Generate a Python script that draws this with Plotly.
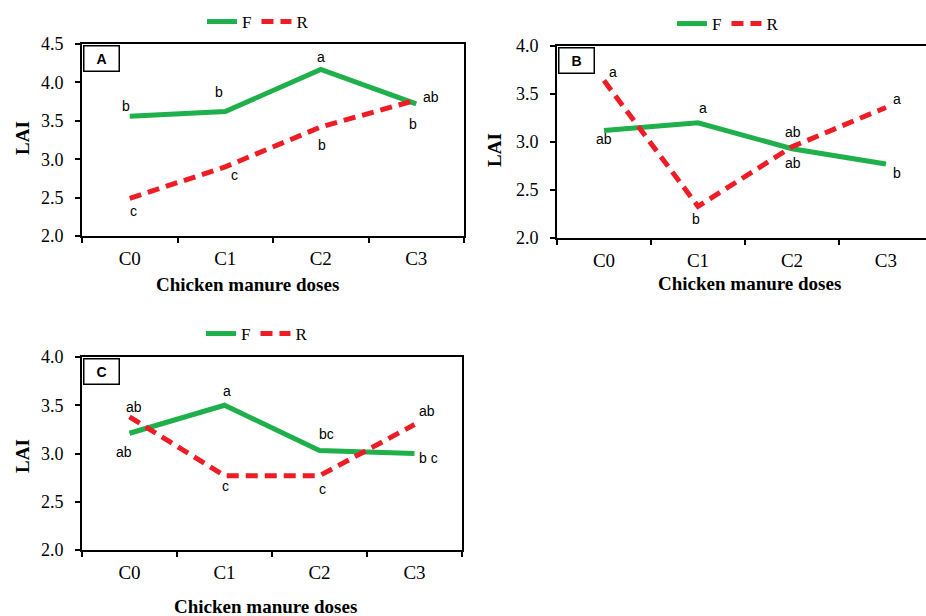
import plotly.graph_objects as go

# Chicken manure dose levels
doses = ["C0", "C1", "C2", "C3"]

# Leaf area index (LAI) for the F and R series in each panel
lai_f_a = [3.56, 3.62, 4.17, 3.72]
lai_r_a = [2.49, 2.90, 3.42, 3.77]
lai_f_b = [3.12, 3.20, 2.93, 2.77]
lai_r_b = [3.64, 2.33, 2.95, 3.36]
lai_f_c = [3.21, 3.50, 3.03, 3.00]
lai_r_c = [3.38, 2.77, 2.77, 3.30]

# Mean-separation letters
letters_f_a = ["b", "b", "a", "b"]
letters_r_a = ["c", "c", "b", "ab"]
letters_f_b = ["ab", "a", "ab", "b"]
letters_r_b = ["a", "b", "ab", "a"]
letters_f_c = ["ab", "a", "bc", "b c"]
letters_r_c = ["ab", "c", "c", "ab"]

# Y axis limits per panel
ymax_a, ymax_b, ymax_c = 4.5, 4.0, 4.0

W, H = 926, 616
GREEN = "#1FB04B"
RED = "#EE1D25"
SERIF = "Liberation Serif, Times New Roman, serif"
SANS = "Liberation Sans, Arial, sans-serif"


def px_x(p):
    return p / W


def px_y(p):
    return 1 - p / H


panels = [
    dict(name="A", f=lai_f_a, r=lai_r_a, lf=letters_f_a, lr=letters_r_a, ymax=ymax_a,
         dom_x=(82, 464), dom_y=(44, 236), xrange=(-0.5, 3.5),
         legend_xy=(258, 4), title_xy=(247, 284), lai_xy=(22, 138),
         shift_f=[(-4, 10), (-6, 20), (0, 12), (-3, -20)],
         shift_r=[(4, -13), (9, -8), (1, -18), (15, 3)]),
    dict(name="B", f=lai_f_b, r=lai_r_b, lf=letters_f_b, lr=letters_r_b, ymax=ymax_b,
         dom_x=(557, 926), dom_y=(46, 238), xrange=(-0.5, 3.426),
         legend_xy=(728, 6), title_xy=(749, 283), lai_xy=(495, 150),
         shift_f=[(0, -9), (5, 15), (1, -14), (11, -9)],
         shift_r=[(9, 9), (-2, -13), (1, 15), (11, 8)]),
    dict(name="C", f=lai_f_c, r=lai_r_c, lf=letters_f_c, lr=letters_r_c, ymax=ymax_c,
         dom_x=(82, 462), dom_y=(357, 550), xrange=(-0.5, 3.5),
         legend_xy=(257, 316), title_xy=(265, 606), lai_xy=(22, 456),
         shift_f=[(-6, -19), (2, 14), (7, 17), (14, -4)],
         shift_r=[(4, 10), (1, -10), (3, -13), (12, 14)]),
]

fig = go.Figure()
annotations = []
layout = {}

for i, p in enumerate(panels):
    n = "" if i == 0 else str(i + 1)
    xa, ya = "x" + n, "y" + n
    leg = "legend" + n

    fig.add_trace(go.Scatter(
        x=doses, y=p["f"], name="F", mode="lines", xaxis=xa, yaxis=ya, legend=leg,
        line=dict(color=GREEN, width=5)))
    fig.add_trace(go.Scatter(
        x=doses, y=p["r"], name="R", mode="lines", xaxis=xa, yaxis=ya, legend=leg,
        line=dict(color=RED, width=5, dash="12px,7px")))

    axis_common = dict(showline=True, linecolor="black", linewidth=2, mirror=True,
                       ticks="outside", ticklen=5, tickwidth=2, tickcolor="black",
                       showgrid=False, zeroline=False)
    layout["xaxis" + n] = dict(axis_common, type="category", categoryorder="array",
                               categoryarray=doses, range=list(p["xrange"]),
                               tickson="boundaries", anchor=ya,
                               domain=[px_x(p["dom_x"][0]), px_x(p["dom_x"][1])],
                               tickfont=dict(family=SERIF, size=19, color="black"),
                               ticklabelstandoff=4)
    layout["yaxis" + n] = dict(axis_common, range=[2.0, p["ymax"]], dtick=0.5,
                               tickformat=".1f", anchor=xa,
                               domain=[px_y(p["dom_y"][1]), px_y(p["dom_y"][0])],
                               tickfont=dict(family=SERIF, size=18, color="black"),
                               ticklabelstandoff=8)
    layout[leg] = dict(orientation="h", x=px_x(p["legend_xy"][0]), xanchor="center",
                       y=px_y(p["legend_xy"][1]), yanchor="top",
                       font=dict(family=SERIF, size=17, color="black"),
                       bgcolor="rgba(0,0,0,0)", itemwidth=30, tracegroupgap=0)

    # significance letters beside each point
    for vals, letters, shifts in ((p["f"], p["lf"], p["shift_f"]),
                                  (p["r"], p["lr"], p["shift_r"])):
        for d, v, t, (sx, sy) in zip(doses, vals, letters, shifts):
            annotations.append(dict(x=d, y=v, xref=xa, yref=ya, text=t, showarrow=False,
                                    xanchor="center", yanchor="middle",
                                    xshift=sx, yshift=sy,
                                    font=dict(family=SANS, size=14, color="black")))

    # panel letter box
    annotations.append(dict(x=0, y=1, xref=xa + " domain", yref=ya + " domain",
                            xanchor="left", yanchor="top", xshift=1, yshift=-1,
                            text="<b>%s</b>" % p["name"], showarrow=False,
                            width=32, height=22, borderpad=1, borderwidth=1.5,
                            bordercolor="black", bgcolor="white",
                            font=dict(family=SANS, size=14, color="black")))

    # axis titles
    annotations.append(dict(x=px_x(p["lai_xy"][0]), y=px_y(p["lai_xy"][1]),
                            xref="paper", yref="paper", xanchor="center", yanchor="middle",
                            text="<b>LAI</b>", textangle=-90, showarrow=False,
                            font=dict(family=SERIF, size=19, color="black")))
    annotations.append(dict(x=px_x(p["title_xy"][0]), y=px_y(p["title_xy"][1]),
                            xref="paper", yref="paper", xanchor="center", yanchor="middle",
                            text="<b>Chicken manure doses</b>", showarrow=False,
                            font=dict(family=SERIF, size=19, color="black")))

fig.update_layout(width=W, height=H,
                  margin=dict(l=0, r=0, t=0, b=0, pad=0, autoexpand=False),
                  paper_bgcolor="white", plot_bgcolor="white",
                  showlegend=True, annotations=annotations, **layout)

fig.write_html("out.html")
